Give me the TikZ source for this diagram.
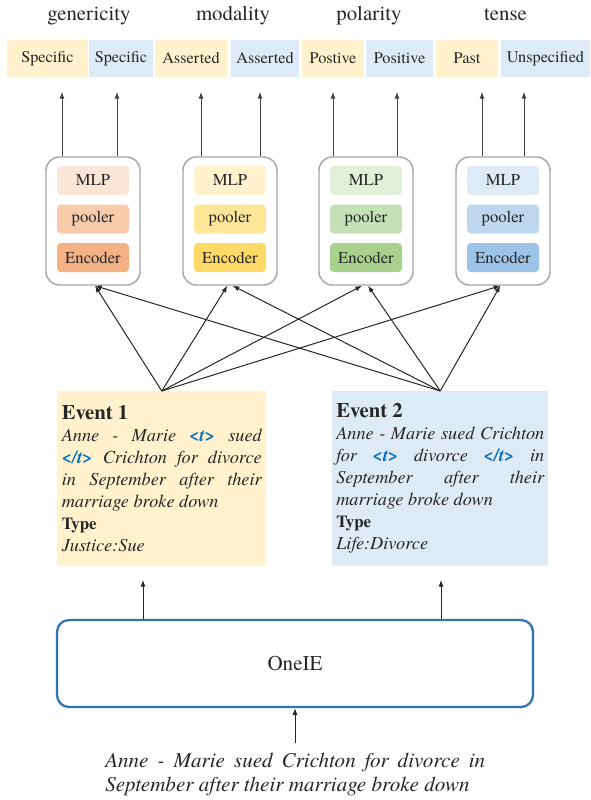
\documentclass[tikz,border=0pt]{standalone}
\usepackage{fontspec}
\setmainfont{texgyretermes}[Extension=.otf, UprightFont=*-regular, BoldFont=*-bold, ItalicFont=*-italic, BoldItalicFont=*-bolditalic]
\usetikzlibrary{positioning,arrows.meta}
\definecolor{txt}{HTML}{262626}
\definecolor{upgray}{HTML}{404040}
\definecolor{ylw}{HTML}{FFF2CC}
\definecolor{blu}{HTML}{DEEBF7}
\definecolor{or1}{HTML}{FBE5D6}
\definecolor{or2}{HTML}{F8CBAD}
\definecolor{or3}{HTML}{F4B183}
\definecolor{go1}{HTML}{FFF2CC}
\definecolor{go2}{HTML}{FFE699}
\definecolor{go3}{HTML}{FFD966}
\definecolor{gr1}{HTML}{E2F0D9}
\definecolor{gr2}{HTML}{C5E0B4}
\definecolor{gr3}{HTML}{A9D18E}
\definecolor{bl1}{HTML}{DEEBF7}
\definecolor{bl2}{HTML}{BDD7EE}
\definecolor{bl3}{HTML}{9DC3E6}
\definecolor{tagblue}{HTML}{0070C0}
\definecolor{frame}{HTML}{A6A6A6}
\definecolor{oneblue}{HTML}{2E75B6}
\newcommand{\tg}[1]{\textcolor{tagblue}{\bfseries #1}}

\begin{document}
\begin{tikzpicture}[x=0.75pt, y=-0.75pt, >={Latex[length=5pt,width=3.8pt]},
    every node/.style={text=txt},
    head/.style={anchor=base, font=\fontsize{15.6}{18}\selectfont},
    lbl/.style={minimum height=27.75pt, inner sep=0pt, font=\fontsize{12.2}{14}\selectfont},
    module/.style={draw=frame, line width=1.1pt, rounded corners=10pt, minimum width=70.5pt, minimum height=96pt},
    part/.style={rounded corners=3pt, minimum width=54pt, minimum height=21.75pt, inner sep=0pt, font=\fontsize{12.5}{14}\selectfont},
    event/.style={anchor=north west, minimum height=131.25pt, align=justify, font=\fontsize{13.7}{16.5}\selectfont},
    arr/.style={->, line width=0.75pt, draw=txt}]
    \useasboundingbox (0,0) rectangle (590,800);

    % attribute names
    \node[head] (gen) at (89,20) {genericity};
    \node[head] (mod) at (233,20) {modality};
    \node[head] (pol) at (369,20) {polarity};
    \node[head] (ten) at (505.5,20) {tense};

    % predicted values
    \node[lbl, fill=ylw, minimum width=60.75pt] (s1) at (47.5,58.5) {Specific};
    \node[lbl, fill=blu, minimum width=48pt] (s2) at (121,58.5) {Specific};
    \node[lbl, fill=ylw, minimum width=54pt] (a1) at (191,58.5) {Asserted};
    \node[lbl, fill=blu, minimum width=51pt] (a2) at (265,58.5) {Asserted};
    \node[lbl, fill=ylw, minimum width=46.5pt] (p1) at (333,58.5) {Postive};
    \node[lbl, fill=blu, minimum width=50.25pt] (p2) at (399.5,58.5) {Positive};
    \node[lbl, fill=ylw, minimum width=46.5pt] (t1) at (467,58.5) {Past};
    \node[lbl, fill=blu, minimum width=66.75pt] (t2) at (545.5,58.5) {Unspecified};

    % classifiers
    \node[module] (m1) at (93,221) {};
    \node[part, fill=or2] (pl1) at (93,219) {pooler};
    \node[part, fill=or1, above=6.8pt of pl1] (mlp1) {MLP};
    \node[part, fill=or3, below=6.8pt of pl1] (enc1) {Encoder};

    \node[module] (m2) at (230,221) {};
    \node[part, fill=go2] (pl2) at (230,219) {pooler};
    \node[part, fill=go1, above=6.8pt of pl2] (mlp2) {MLP};
    \node[part, fill=go3, below=6.8pt of pl2] (enc2) {Encoder};

    \node[module] (m3) at (366,221) {};
    \node[part, fill=gr2] (pl3) at (366,219) {pooler};
    \node[part, fill=gr1, above=6.8pt of pl3] (mlp3) {MLP};
    \node[part, fill=gr3, below=6.8pt of pl3] (enc3) {Encoder};

    \node[module] (m4) at (503,221) {};
    \node[part, fill=bl2] (pl4) at (503,219) {pooler};
    \node[part, fill=bl1, above=6.8pt of pl4] (mlp4) {MLP};
    \node[part, fill=bl3, below=6.8pt of pl4] (enc4) {Encoder};

    % outputs
    \coordinate (up1) at (62,92);
    \coordinate (up2) at (117,92);
    \coordinate (up3) at (201,92);
    \coordinate (up4) at (260,92);
    \coordinate (up5) at (333,92);
    \coordinate (up6) at (397,92);
    \coordinate (up7) at (482,92);
    \coordinate (up8) at (524,92);
    \draw[arr, draw=upgray] (m1.north -| up1) -- (up1);
    \draw[arr, draw=upgray] (m1.north -| up2) -- (up2);
    \draw[arr, draw=upgray] (m2.north -| up3) -- (up3);
    \draw[arr, draw=upgray] (m2.north -| up4) -- (up4);
    \draw[arr, draw=upgray] (m3.north -| up5) -- (up5);
    \draw[arr, draw=upgray] (m3.north -| up6) -- (up6);
    \draw[arr, draw=upgray] (m4.north -| up7) -- (up7);
    \draw[arr, draw=upgray] (m4.north -| up8) -- (up8);

    % events
    \node[event, fill=ylw, text width=150pt, inner xsep=3.375pt] (ev1) at (57,391) {%
        {\fontsize{15.5}{16.5}\selectfont\bfseries Event 1}\\
        \itshape Anne - Marie \tg{<t>} sued\linebreak \tg{</t>} Crichton for divorce\linebreak in September after their\linebreak marriage broke down\\
        {\upshape\bfseries\fontsize{12.7}{16.5}\selectfont Type}\\
        Justice:Sue};
    \node[event, fill=blu, text width=156pt, inner xsep=3pt] (ev2) at (332,391) {%
        {\fontsize{15.5}{16.5}\selectfont\bfseries Event 2}\\
        \itshape Anne - Marie sued Crichton\linebreak for \tg{<t>} divorce \tg{</t>} in\linebreak September after their\linebreak marriage broke down\\
        {\upshape\bfseries\fontsize{12.7}{16.5}\selectfont Type}\\
        Life:Divorce};

    \draw[arr] (ev1.north) -- ([xshift=1.5pt]m1.south);
    \draw[arr] (ev1.north) -- ([xshift=-2pt]m2.south);
    \draw[arr] (ev1.north) -- ([xshift=-3pt]m3.south);
    \draw[arr] (ev1.north) -- ([xshift=-2pt]m4.south);
    \draw[arr] (ev2.north) -- ([xshift=1.5pt]m1.south);
    \draw[arr] (ev2.north) -- ([xshift=2pt]m2.south);
    \draw[arr] (ev2.north) -- ([xshift=1.5pt]m3.south);
    \draw[arr] (ev2.north) -- ([xshift=-2pt]m4.south);

    % extractor
    \node[draw=oneblue, line width=1.7pt, rounded corners=9pt, minimum width=357pt, minimum height=65.25pt, font=\fontsize{15.8}{18}\selectfont] (oneie) at (295,663.5) {OneIE};
    \coordinate (e1in) at (143,580);
    \coordinate (e2in) at (441,580);
    \draw[arr] (oneie.north -| e1in) -- (e1in);
    \draw[arr] (oneie.north -| e2in) -- (e2in);

    % input sentence
    \node[anchor=north west, inner sep=0pt, text width=285pt, align=justify, font=\fontsize{15.8}{18}\selectfont\itshape] (sent) at (105,753) {Anne - Marie sued Crichton for divorce in\linebreak September after their marriage broke down};
    \coordinate (in) at (295,743);
    \draw[arr] (in) -- (oneie);
\end{tikzpicture}
\end{document}
